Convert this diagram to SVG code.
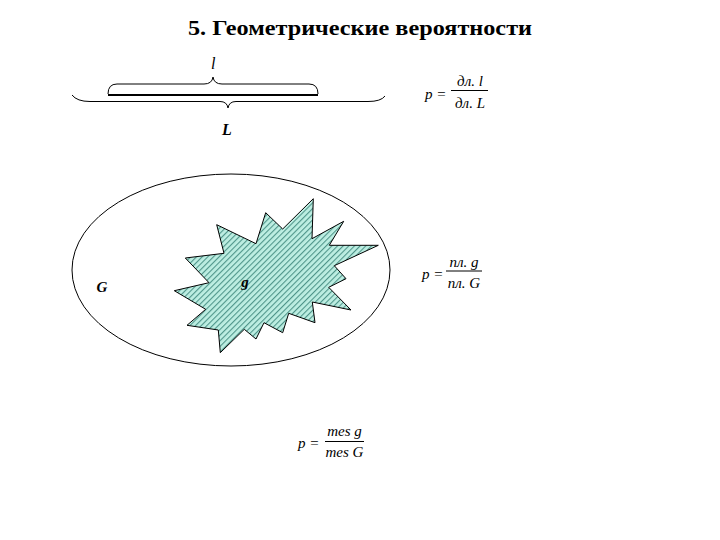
<svg xmlns="http://www.w3.org/2000/svg" width="720" height="540" viewBox="0 0 720 540">
<style>
.t{font-family:"Liberation Serif","Times New Roman",serif;fill:#000}
.it{font-style:italic}
.f{font-family:"Liberation Serif","Times New Roman",serif;font-style:italic;font-size:15px;fill:#000}
.ln{stroke:#000;stroke-width:1;fill:none}
</style>
<defs>
<pattern id="hatch" width="4" height="4" patternUnits="userSpaceOnUse" patternTransform="rotate(-45)">
<rect width="4" height="4" fill="#bdeee2"/>
<rect width="4" height="1.1" fill="#4f958a"/>
</pattern>
</defs>
<rect width="720" height="540" fill="#fff"/>
<text class="t" x="360" y="35" font-size="22" font-weight="bold" text-anchor="middle" textLength="344" lengthAdjust="spacingAndGlyphs">5. Геометрические вероятности</text>

<g id="segments">
<line x1="108" y1="95" x2="318" y2="95" stroke="#000" stroke-width="2"/>
<path class="ln" d="M108,94 Q108,84 117,84 L204,84 Q212,84 213,77 Q214,84 222,84 L309,84 Q318,84 318,94"/>
<path class="ln" d="M72,95 Q77,101.5 90,101.5 L220,101.5 Q227,101.5 228,108 Q229,101.5 236,101.5 L368,101.5 Q381,101.5 385,96"/>
<text class="t it" x="211" y="69" font-size="16">l</text>
<text class="t it" x="227" y="135" font-size="16" font-weight="bold" text-anchor="middle">L</text>
</g>

<g id="formula1">
<text class="f" x="425" y="99">p =</text>
<text class="f" x="470" y="86" text-anchor="middle">дл. l</text>
<line x1="451" y1="90.5" x2="488" y2="90.5" stroke="#000" stroke-width="1"/>
<text class="f" x="470" y="108" text-anchor="middle">дл. L</text>
</g>

<g id="region-G">
<ellipse cx="231" cy="270" rx="159" ry="96" class="ln"/>
<text class="t it" x="102" y="292" font-size="15" font-weight="bold" text-anchor="middle">G</text>
</g>

<g id="region-g">
<polygon points="216.7,224.7 224,253.3 185.3,258 209,282.7 174.3,290.7 205.7,309.3 187,325.3 218.3,330 220.3,352.7 244.3,329.3 256,339 264,322.7 282.7,332.7 288.7,313.3 315,322.7 312.3,302 351,310 328.7,287.3 346,278.7 334.3,265.7 378.3,245.3 329.3,245.3 343.7,221.3 312,238.7 313.3,198.7 282.7,229 265.7,212.7 256,243.7" fill="url(#hatch)" stroke="#000" stroke-width="1"/>
<text class="t it" x="245" y="287" font-size="15" font-weight="bold" text-anchor="middle">g</text>
</g>

<g id="formula2">
<text class="f" x="422" y="279">p =</text>
<text class="f" x="464" y="267" text-anchor="middle">пл. g</text>
<line x1="446" y1="271" x2="482" y2="271" stroke="#000" stroke-width="1"/>
<text class="f" x="464" y="288" text-anchor="middle">пл. G</text>
</g>

<g id="formula3">
<text class="f" x="298" y="448">p =</text>
<text class="f" x="344.5" y="436" text-anchor="middle">mes g</text>
<line x1="325" y1="441.5" x2="364" y2="441.5" stroke="#000" stroke-width="1"/>
<text class="f" x="344.5" y="457" text-anchor="middle">mes G</text>
</g>
</svg>
